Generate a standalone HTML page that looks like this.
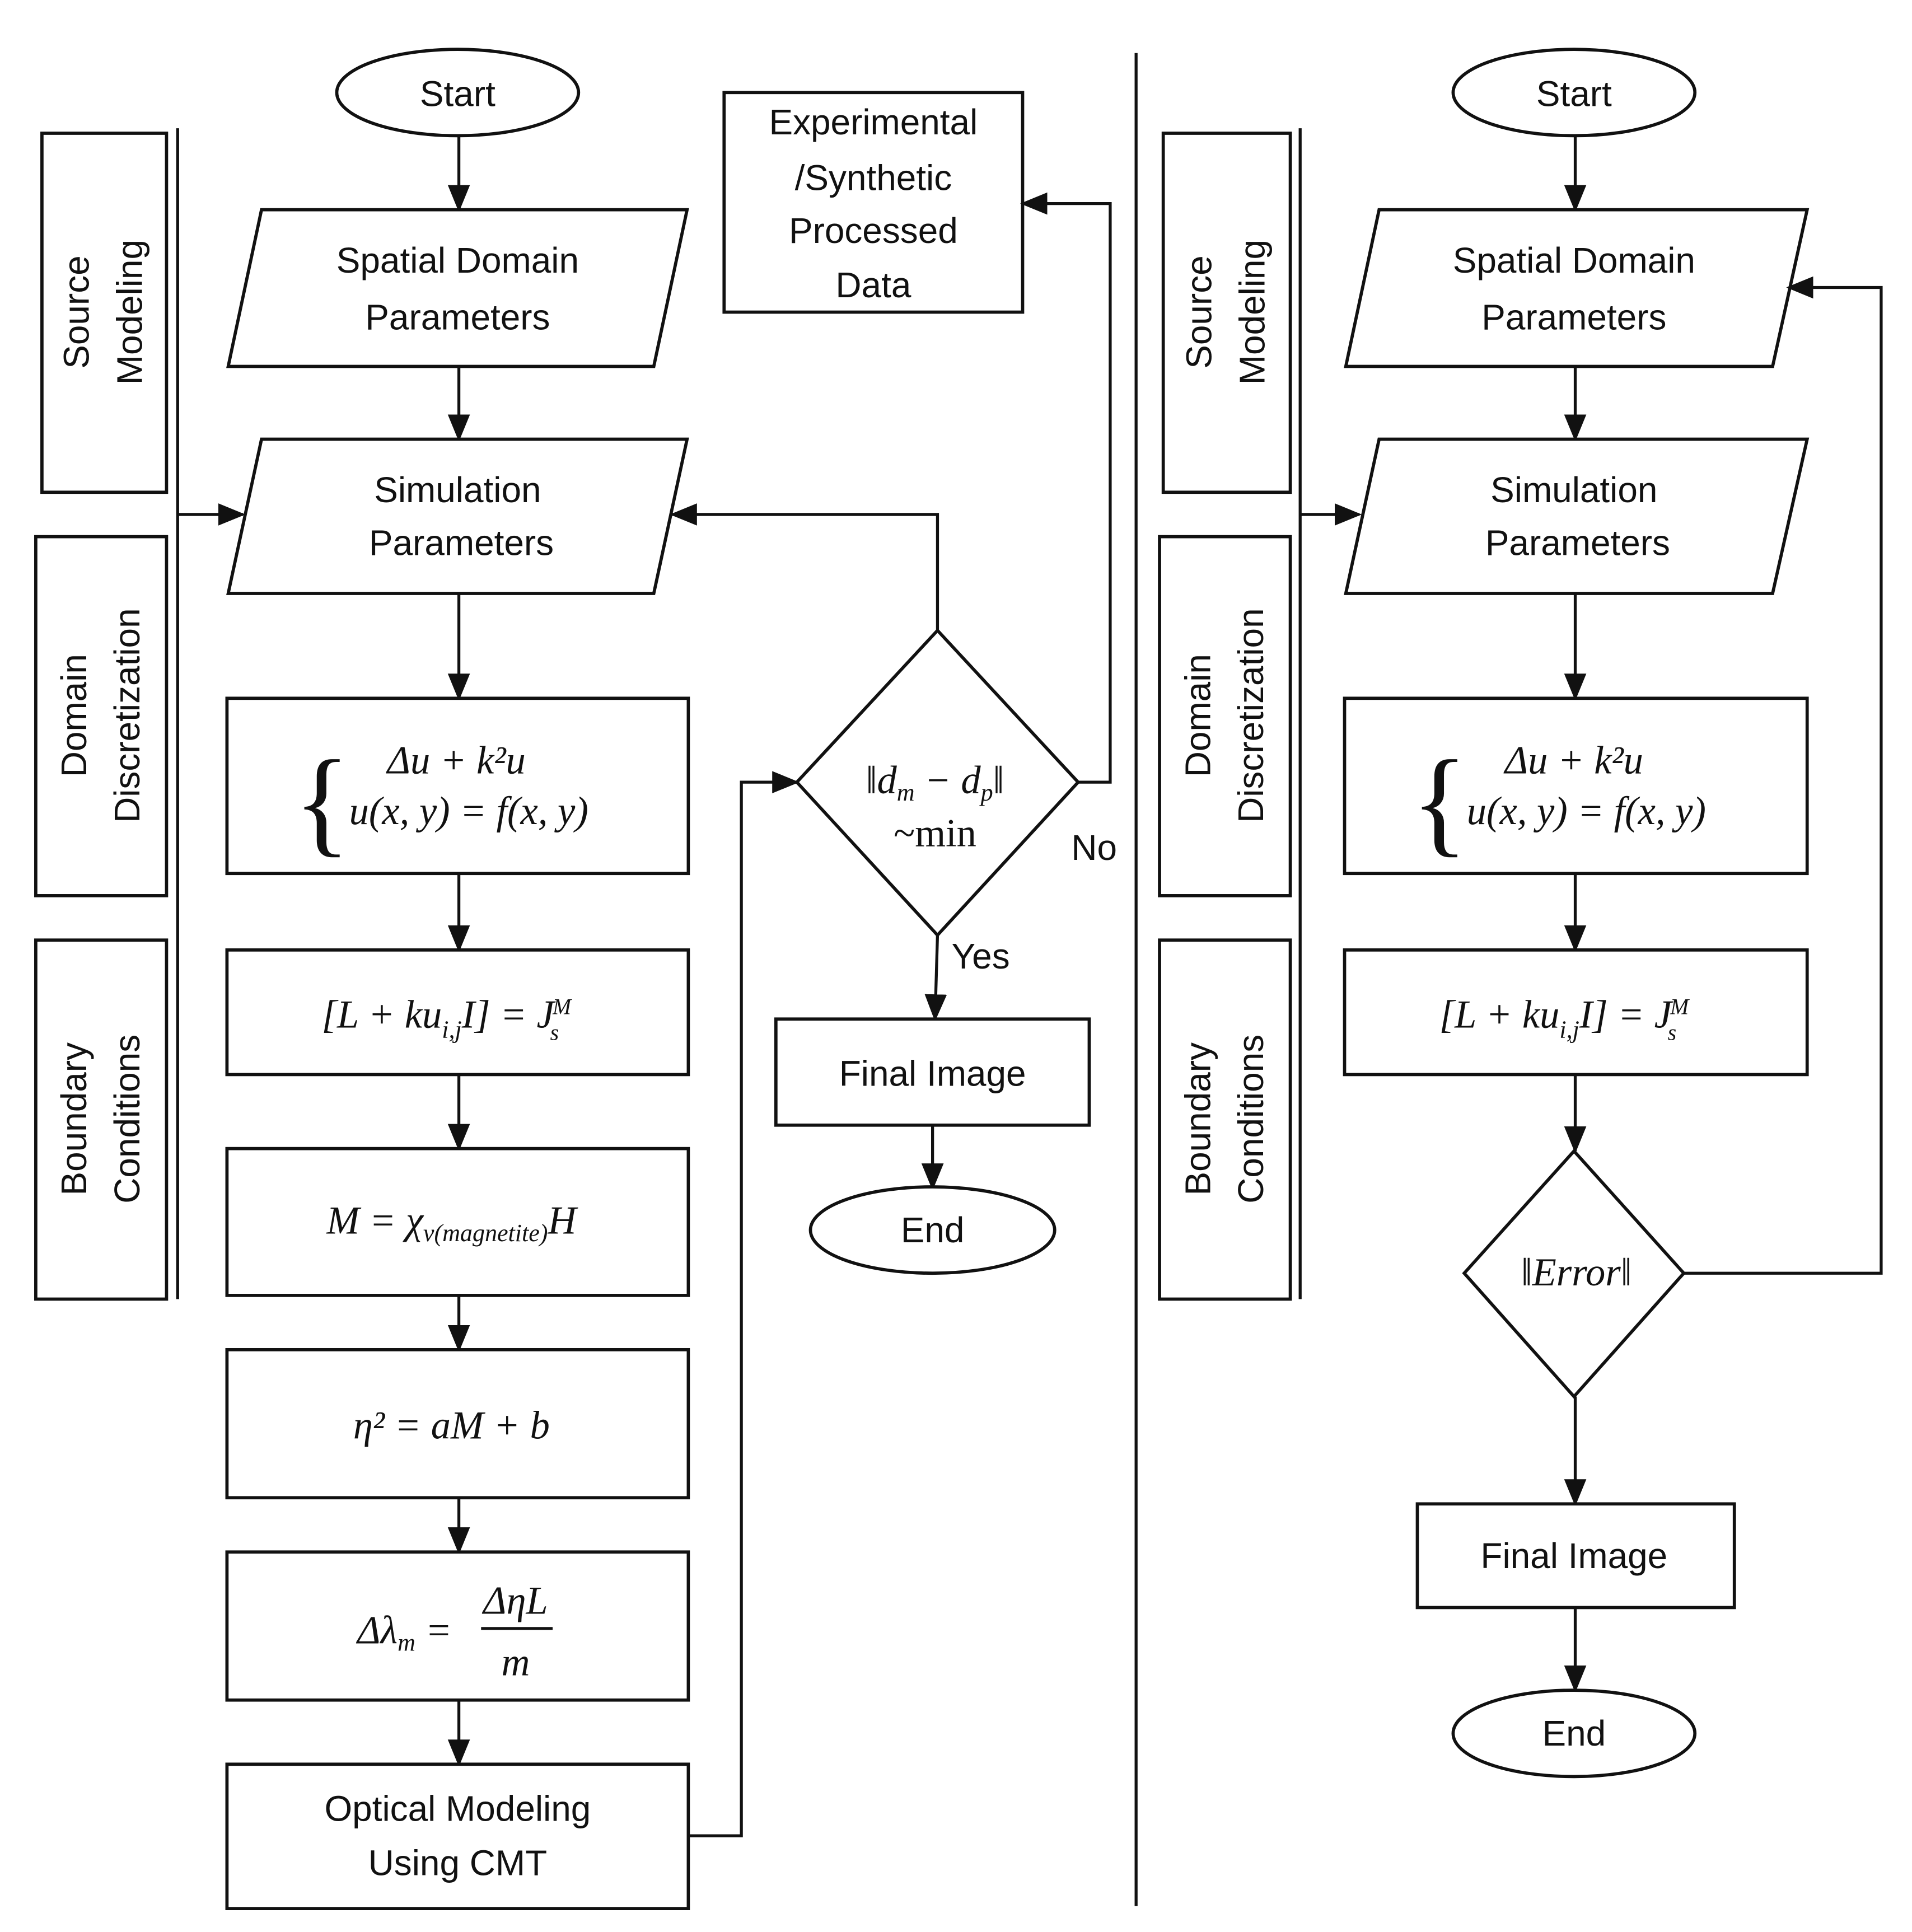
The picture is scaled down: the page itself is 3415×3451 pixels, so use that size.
<!DOCTYPE html>
<html><head><meta charset="utf-8"><style>
html,body{margin:0;padding:0;background:#fff}
svg{display:block}
.t{font-family:"Liberation Sans",sans-serif;font-size:29px;fill:#111;text-anchor:middle}
.m{font-family:"Liberation Serif",serif;font-style:italic;font-size:32px;fill:#111;text-anchor:middle}
.ms{font-family:"Liberation Serif",serif;font-style:italic;font-size:18px;fill:#111}
.s{fill:#fff;stroke:#111;stroke-width:2.6}
.l{fill:none;stroke:#111;stroke-width:2.4}
</style></head><body>
<svg width="3415" height="3451" viewBox="0 0 1550 1566" preserveAspectRatio="none" xmlns="http://www.w3.org/2000/svg">
<defs>
<marker id="b" markerWidth="22" markerHeight="22" refX="20" refY="11" orient="auto" markerUnits="userSpaceOnUse" viewBox="0 0 22 22"><path d="M0,2 L22,11 L0,20z" fill="#111"/></marker></defs>

<line x1="921" y1="43" x2="921" y2="1545" class="l"/>

<rect x="34" y="108" width="101" height="291" class="s"/>
<rect x="29" y="435" width="106" height="291" class="s"/>
<rect x="29" y="762" width="106" height="291" class="s"/>
<line x1="144" y1="104" x2="144" y2="1053" class="l" stroke-width="3"/>
<text transform="translate(72,253) rotate(-90)" class="t">Source</text><text transform="translate(115,253) rotate(-90)" class="t">Modeling</text>
<text transform="translate(70,580) rotate(-90)" class="t">Domain</text><text transform="translate(113,580) rotate(-90)" class="t">Discretization</text>
<text transform="translate(70,907) rotate(-90)" class="t">Boundary</text><text transform="translate(113,907) rotate(-90)" class="t">Conditions</text>
<line x1="144" y1="417" x2="197" y2="417" class="l" marker-end="url(#b)"/>

<ellipse cx="371" cy="75" rx="98" ry="35" class="s"/><text x="371" y="86" class="t">Start</text>
<line x1="372" y1="110" x2="372" y2="170" class="l" marker-end="url(#b)"/>
<polygon points="212,170 557,170 530,297 185,297" class="s"/>
<text x="371" y="221" class="t">Spatial Domain</text><text x="371" y="267" class="t">Parameters</text>
<line x1="372" y1="297" x2="372" y2="356" class="l" marker-end="url(#b)"/>
<polygon points="212,356 557,356 530,481 185,481" class="s"/>
<text x="371" y="407" class="t">Simulation</text><text x="374" y="450" class="t">Parameters</text>
<line x1="372" y1="481" x2="372" y2="566" class="l" marker-end="url(#b)"/>
<rect x="184" y="566" width="374" height="142" class="s"/>
<text x="238" y="682" style="font-family:'Liberation Serif',serif;font-size:96px;fill:#111">{</text>
<text x="370" y="627" class="m">Δu + k²u</text><text x="380" y="668" class="m">u(x, y) = f(x, y)</text>
<line x1="372" y1="708" x2="372" y2="770" class="l" marker-end="url(#b)"/>
<rect x="184" y="770" width="374" height="101" class="s"/>
<text x="355" y="833" class="m">[L + ku<tspan font-size="20" dy="8">i,j</tspan><tspan dy="-8">I] = J</tspan></text>
<text x="448" y="822" class="ms">M</text><text x="446" y="843" class="ms">s</text>
<line x1="372" y1="871" x2="372" y2="931" class="l" marker-end="url(#b)"/>
<rect x="184" y="931" width="374" height="119" class="s"/>
<text x="366" y="1000" class="m">M =  χ<tspan font-size="20" dy="6">v(magnetite)</tspan><tspan dy="-6">H</tspan></text>
<line x1="372" y1="1050" x2="372" y2="1094" class="l" marker-end="url(#b)"/>
<rect x="184" y="1094" width="374" height="120" class="s"/>
<text x="366" y="1166" class="m">η² = aM + b</text>
<line x1="372" y1="1214" x2="372" y2="1258" class="l" marker-end="url(#b)"/>
<rect x="184" y="1258" width="374" height="120" class="s"/>
<text x="328" y="1332" class="m">Δλ<tspan font-size="20" dy="6">m</tspan><tspan dy="-6"> =</tspan></text>
<text x="418" y="1308" class="m">ΔηL</text><line x1="390" y1="1320" x2="448" y2="1320" class="l"/><text x="418" y="1358" class="m">m</text>
<line x1="372" y1="1378" x2="372" y2="1430" class="l" marker-end="url(#b)"/>
<rect x="184" y="1430" width="374" height="117" class="s"/>
<text x="371" y="1476" class="t">Optical Modeling</text><text x="371" y="1520" class="t">Using CMT</text>
<polyline points="558,1488 601,1488 601,634 646,634" class="l" marker-end="url(#b)"/>

<rect x="587" y="75" width="242" height="178" class="s"/>
<text x="708" y="109" class="t">Experimental</text><text x="708" y="154" class="t">/Synthetic</text>
<text x="708" y="197" class="t">Processed</text><text x="708" y="241" class="t">Data</text>
<polygon points="760,511 874,634 760,758 646,634" class="s"/>
<text x="758" y="643" class="m">‖d<tspan font-size="20" dy="6">m</tspan><tspan dy="-6"> − d</tspan><tspan font-size="20" dy="6">p</tspan><tspan dy="-6">‖</tspan></text>
<text x="758" y="686" class="m" style="font-style:normal">~min</text>
<polyline points="760,511 760,417 545,417" class="l" marker-end="url(#b)"/>
<polyline points="874,634 900,634 900,165 829,165" class="l" marker-end="url(#b)"/>
<text x="887" y="697" class="t">No</text>
<text x="795" y="785" class="t">Yes</text>
<line x1="760" y1="758" x2="758" y2="826" class="l" marker-end="url(#b)"/>
<rect x="629" y="826" width="254" height="86" class="s"/><text x="756" y="880" class="t">Final Image</text>
<line x1="756" y1="912" x2="756" y2="963" class="l" marker-end="url(#b)"/>
<ellipse cx="756" cy="997" rx="99" ry="35" class="s"/><text x="756" y="1007" class="t">End</text>

<rect x="943" y="108" width="103" height="291" class="s"/>
<rect x="940" y="435" width="106" height="291" class="s"/>
<rect x="940" y="762" width="106" height="291" class="s"/>
<line x1="1054" y1="104" x2="1054" y2="1053" class="l" stroke-width="3"/>
<text transform="translate(982,253) rotate(-90)" class="t">Source</text><text transform="translate(1025,253) rotate(-90)" class="t">Modeling</text>
<text transform="translate(981,580) rotate(-90)" class="t">Domain</text><text transform="translate(1024,580) rotate(-90)" class="t">Discretization</text>
<text transform="translate(981,907) rotate(-90)" class="t">Boundary</text><text transform="translate(1024,907) rotate(-90)" class="t">Conditions</text>
<line x1="1054" y1="417" x2="1102" y2="417" class="l" marker-end="url(#b)"/>

<ellipse cx="1276" cy="75" rx="98" ry="35" class="s"/><text x="1276" y="86" class="t">Start</text>
<line x1="1277" y1="110" x2="1277" y2="170" class="l" marker-end="url(#b)"/>
<polygon points="1118,170 1465,170 1437,297 1091,297" class="s"/>
<text x="1276" y="221" class="t">Spatial Domain</text><text x="1276" y="267" class="t">Parameters</text>
<line x1="1277" y1="297" x2="1277" y2="356" class="l" marker-end="url(#b)"/>
<polygon points="1118,356 1465,356 1437,481 1091,481" class="s"/>
<text x="1276" y="407" class="t">Simulation</text><text x="1279" y="450" class="t">Parameters</text>
<line x1="1277" y1="481" x2="1277" y2="566" class="l" marker-end="url(#b)"/>
<rect x="1090" y="566" width="375" height="142" class="s"/>
<text x="1144" y="682" style="font-family:'Liberation Serif',serif;font-size:96px;fill:#111">{</text>
<text x="1276" y="627" class="m">Δu + k²u</text><text x="1286" y="668" class="m">u(x, y) = f(x, y)</text>
<line x1="1277" y1="708" x2="1277" y2="770" class="l" marker-end="url(#b)"/>
<rect x="1090" y="770" width="375" height="101" class="s"/>
<text x="1261" y="833" class="m">[L + ku<tspan font-size="20" dy="8">i,j</tspan><tspan dy="-8">I] = J</tspan></text>
<text x="1354" y="822" class="ms">M</text><text x="1352" y="843" class="ms">s</text>
<line x1="1277" y1="871" x2="1277" y2="933" class="l" marker-end="url(#b)"/>
<polygon points="1276,933 1365,1032 1276,1132 1187,1032" class="s"/>
<text x="1278" y="1042" class="m">‖Error‖</text>
<polyline points="1365,1032 1525,1032 1525,233 1450,233" class="l" marker-end="url(#b)"/>
<line x1="1277" y1="1132" x2="1277" y2="1219" class="l" marker-end="url(#b)"/>
<rect x="1149" y="1219" width="257" height="84" class="s"/><text x="1276" y="1271" class="t">Final Image</text>
<line x1="1277" y1="1303" x2="1277" y2="1370" class="l" marker-end="url(#b)"/>
<ellipse cx="1276" cy="1405" rx="98" ry="35" class="s"/><text x="1276" y="1415" class="t">End</text>
</svg>
</body></html>
